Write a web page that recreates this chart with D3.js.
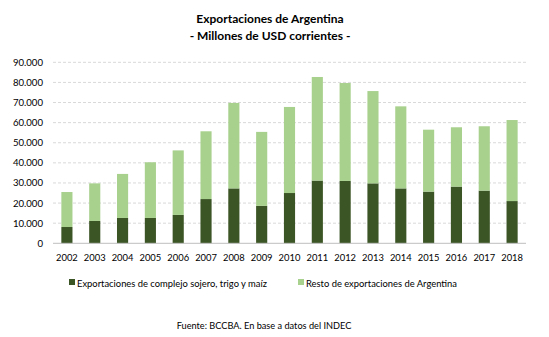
<!DOCTYPE html>
<html>
<head>
<meta charset="utf-8">
<script src="https://cdn.jsdelivr.net/npm/d3@7"></script>
<style>
  body { margin: 0; background: #fff; }
  text { font-family: Lato, "Open Sans", sans-serif; fill: #000; }
</style>
</head>
<body>
<div id="canvas"></div>
<script>
var years = ['2002', '2003', '2004', '2005', '2006', '2007', '2008', '2009', '2010',
    '2011', '2012', '2013', '2014', '2015', '2016', '2017', '2018'];
// complejo sojero, trigo y maiz (millones USD)
var complejo = [8100, 11100, 12600, 12600, 14100, 22000, 27300, 18600, 25000,
    31200, 31000, 29800, 27300, 25700, 28200, 26200, 21000];
// resto de exportaciones
var resto = [17400, 18700, 21900, 27700, 32100, 33700, 42500, 36800, 42800,
    51500, 48700, 45900, 40800, 30800, 29500, 32000, 40300];
var yTicks = [0, 10000, 20000, 30000, 40000, 50000, 60000, 70000, 80000, 90000];
var seriesNames = ['Exportaciones de complejo sojero, trigo y maíz', 'Resto de exportaciones de Argentina'];

var colors = ['#3b5525', '#a9d18e'];
var fmt = function(d) { return d3.format(',')(d).replace(/,/g, '.'); };

var width = 549, height = 337;
var svg = d3.select('#canvas').append('svg')
    .attr('width', width)
    .attr('height', height);

var x = d3.scaleBand().domain(years).range([53, 526]).paddingInner(0.6).paddingOuter(0.3);
var y = d3.scaleLinear().domain([0, 90000]).range([243.3, 62.3]);

// title
svg.append('text').attr('x', 270).attr('y', 23).attr('text-anchor', 'middle')
    .attr('font-size', 12).attr('font-weight', 'bold').text('Exportaciones de Argentina');
svg.append('text').attr('x', 270).attr('y', 40).attr('text-anchor', 'middle')
    .attr('font-size', 12).attr('font-weight', 'bold').text('- Millones de USD corrientes -');

// gridlines
svg.append('g').selectAll('line')
    .data(yTicks.filter(function(d) { return d > 0; }))
    .enter().append('line')
    .attr('x1', 53).attr('x2', 526)
    .attr('y1', function(d) { return y(d); })
    .attr('y2', function(d) { return y(d); })
    .attr('stroke', '#d9d9d9')
    .attr('stroke-dasharray', '3,2');

var table = years.map(function(yr, i) {
    return { year: yr, complejo: complejo[i], resto: resto[i] };
});
var stack = d3.stack().keys(['complejo', 'resto'])(table);

svg.append('g').selectAll('g')
    .data(stack)
    .enter().append('g')
    .attr('fill', function(d, i) { return colors[i]; })
    .selectAll('rect')
    .data(function(d) { return d; })
    .enter().append('rect')
    .attr('x', function(d) { return x(d.data.year); })
    .attr('width', x.bandwidth())
    .attr('y', function(d) { return y(d[1]); })
    .attr('height', function(d) { return y(d[0]) - y(d[1]); });

// axis line
svg.append('line').attr('x1', 53).attr('x2', 526)
    .attr('y1', y(0)).attr('y2', y(0))
    .attr('stroke', '#bfbfbf');

// y labels
svg.append('g').selectAll('text')
    .data(yTicks)
    .enter().append('text')
    .attr('x', 43)
    .attr('y', function(d) { return y(d) + 3.5; })
    .attr('text-anchor', 'end')
    .attr('font-size', 9.6)
    .text(fmt);

// x labels
svg.append('g').selectAll('text')
    .data(years)
    .enter().append('text')
    .attr('x', function(d) { return x(d) + x.bandwidth() / 2; })
    .attr('y', 261)
    .attr('text-anchor', 'middle')
    .attr('font-size', 9.4)
    .text(function(d) { return d; });

// legend
var legX = [69, 298];
var leg = svg.append('g').selectAll('g')
    .data(seriesNames)
    .enter().append('g')
    .attr('transform', function(d, i) { return 'translate(' + legX[i] + ',283)'; });
leg.append('rect').attr('x', 0).attr('y', -4).attr('width', 6).attr('height', 6)
    .attr('fill', function(d, i) { return colors[i]; });
leg.append('text').attr('x', 8).attr('y', 3.5).attr('font-size', 9.4)
    .text(function(d) { return d; });

// source
svg.append('text').attr('x', 264).attr('y', 329).attr('text-anchor', 'middle')
    .attr('font-size', 9.2).text('Fuente: BCCBA. En base a datos del INDEC');
</script>
</body>
</html>
